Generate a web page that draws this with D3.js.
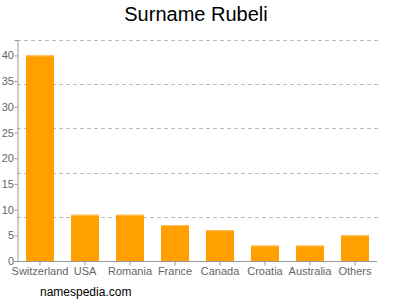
<!DOCTYPE html>
<html><head><meta charset="utf-8">
<script src="https://cdn.jsdelivr.net/npm/d3@7"></script>
<style>body{margin:0;background:#fff}svg{display:block;font-family:"Liberation Sans",Arial,sans-serif}</style>
</head><body>
<svg id="c" width="400" height="300"></svg>
<script>
const categories = ["Switzerland","USA","Romania","France","Canada","Croatia","Australia","Others"];
const values = [40,9,9,7,6,3,3,5];
const yTicks = [0,5,10,15,20,25,30,35,40];
const yMax = 43;
const gridValues = [8.6,17.2,25.8,34.4,43];

const svg = d3.select("#c");
const x = d3.scaleBand().domain(categories).range([17.5,377.5]).paddingInner(0.378).paddingOuter(0.189);
const y = d3.scaleLinear().domain([0,yMax]).range([261,40]);

svg.append("text").attr("x",196).attr("y",21).attr("text-anchor","middle")
  .attr("font-size",20).attr("fill","#000").text("Surname Rubeli");

svg.append("g").selectAll("line").data(gridValues).join("line")
  .attr("x1",17).attr("x2",380).attr("y1",d=>Math.round(y(d))+0.5).attr("y2",d=>Math.round(y(d))+0.5)
  .attr("stroke","#bbb").attr("stroke-dasharray","4,3");

svg.append("g").selectAll("rect").data(values).join("rect")
  .attr("x",(d,i)=>x(categories[i])).attr("width",x.bandwidth())
  .attr("y",d=>y(d)).attr("height",d=>y(0)-y(d)).attr("fill","#ffa000");
svg.append("g").selectAll("line").data(values).join("line")
  .attr("x1",(d,i)=>x(categories[i])).attr("x2",(d,i)=>x(categories[i])+x.bandwidth())
  .attr("y1",d=>y(d)+0.5).attr("y2",d=>y(d)+0.5).attr("stroke","#ffc060");

const ya = svg.append("g").attr("transform","translate(17.5,0)")
  .call(d3.axisLeft(y).tickValues(yTicks).tickSize(3).tickPadding(0.5));
ya.select(".domain").attr("stroke","#999");
ya.selectAll(".tick line").attr("stroke","#999");
ya.selectAll("text").attr("fill","#666").attr("font-size",11).attr("font-family","Liberation Sans, Arial, sans-serif");

const xa = svg.append("g").attr("transform","translate(0,261.5)")
  .call(d3.axisBottom(x).tickSize(4).tickSizeOuter(0).tickPadding(2));
xa.select(".domain").attr("stroke","#999").attr("d","M17,0H377");
xa.selectAll(".tick line").attr("stroke","#999");
xa.selectAll("text").attr("fill","#666").attr("font-size",11).attr("font-family","Liberation Sans, Arial, sans-serif");

svg.append("text").attr("x",40).attr("y",296).attr("font-size",12).attr("fill","#000").text("namespedia.com");
</script>
</body></html>
